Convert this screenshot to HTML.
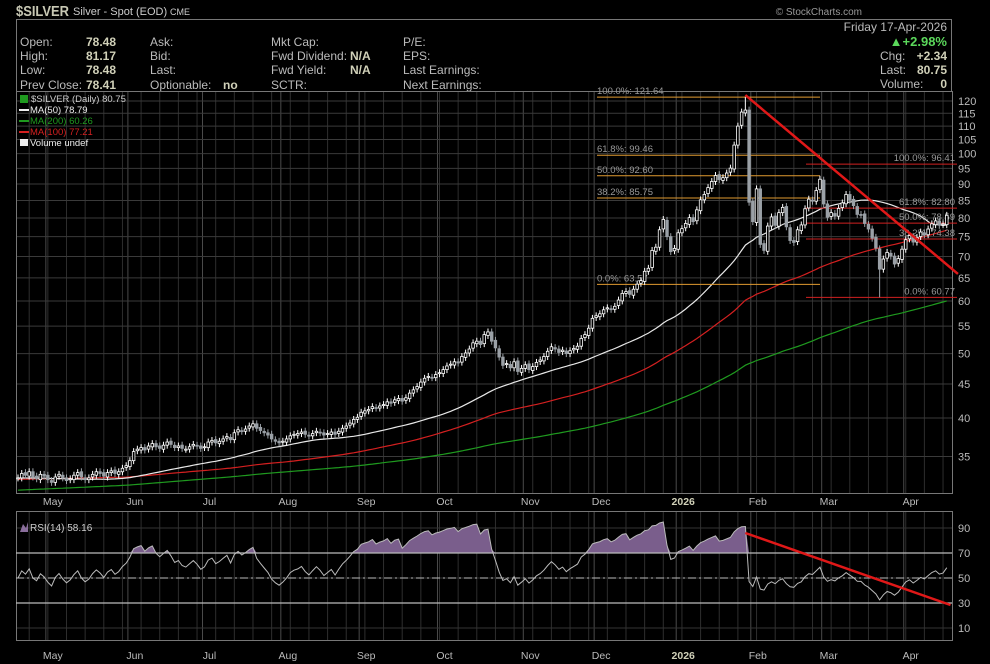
<!DOCTYPE html>
<html><head><meta charset="utf-8">
<style>
body{margin:0;background:#000;width:990px;height:664px;overflow:hidden;font-family:"Liberation Sans",sans-serif;}
svg{position:absolute;left:0;top:0}
</style></head>
<body>
<svg id="c" width="990" height="664"></svg>
<script>
// ---- data ----
const closes=[32.5,33.0,32.8,33.2,32.6,32.4,32.9,32.7,
32.3,32.0,32.6,32.9,32.5,32.2,32.4,32.8,33.1,32.6,32.3,32.5,32.9,33.2,33.0,32.7,33.1,33.3,33.0,33.2,33.6,33.9,
34.5,35.6,35.9,36.1,35.8,36.3,36.6,36.2,36.0,36.4,36.8,36.5,36.1,36.3,36.0,35.9,36.2,36.5,36.3,36.0,
36.2,36.8,37.0,36.7,36.9,37.2,37.5,37.1,38.0,38.4,38.2,38.5,38.9,39.2,38.6,38.3,38.0,37.7,37.2,36.9,36.7,
36.9,37.2,37.6,37.8,37.9,38.1,37.8,37.6,37.9,38.2,38.0,37.7,37.9,38.1,37.8,38.2,38.6,38.9,39.3,39.8,40.1,
40.8,41.0,41.2,41.6,41.4,41.7,41.9,42.3,42.1,42.6,42.8,42.4,42.9,43.6,44.1,44.6,45.3,45.9,46.2,46.0,46.5,
46.8,47.3,47.9,48.2,48.6,48.4,49.5,50.1,50.8,51.9,52.2,51.6,53.4,53.9,52.2,51.0,49.4,48.0,48.3,47.6,48.6,47.0,47.5,
48.1,47.3,47.8,48.5,48.9,49.5,50.4,51.2,50.8,50.2,50.6,50.0,50.5,50.9,51.3,52.7,53.4,54.6,56.5,
57.0,57.4,58.2,58.6,58.3,58.9,60.2,61.6,62.0,61.4,62.5,63.6,64.4,66.5,67.2,71.5,72.3,76.8,79.6,75.0,71.2,72.0,
76.0,77.1,78.5,80.1,79.0,82.3,85.2,86.8,88.9,90.8,92.7,91.4,92.0,93.5,95.1,103.0,110.0,115.5,116.3,
84.5,
79.0,88.5,73.0,71.5,77.8,80.3,78.0,81.5,83.0,77.6,74.0,73.5,76.8,78.1,82.6,85.4,84.8,88.0,91.5,
84.0,80.2,81.5,80.5,82.7,84.3,86.8,85.1,83.5,81.0,80.9,78.5,77.0,74.6,72.1,67.0,69.4,71.0,70.1,68.2,69.5,71.8,
74.2,75.3,73.6,74.8,76.2,75.5,77.0,78.4,79.2,78.0,78.41,80.75];
const priorLevels=[29.0,29.5,30.2,31.0,31.8,32.5,33.0,32.0]; // monthly levels before chart start
const extremeIdx=[195,231];
const extremeVal=[121.64,60.77];
const priceTicks=[35,40,45,50,55,60,65,70,75,80,85,90,95,100,105,110,115,120];
const rsiTicks=[10,30,50,70,90];
const monthLabels=["May","Jun","Jul","Aug","Sep","Oct","Nov","Dec","2026","Feb","Mar","Apr"];
const monthIdx=[8,30,50,71,92,113,136,155,177,197,216,238];
const fibA=[121.64,99.46,92.60,85.75,63.57];
const fibALbl=["100.0%: 121.64","61.8%: 99.46","50.0%: 92.60","38.2%: 85.75","0.0%: 63.57"];
const fibB=[96.41,82.80,78.59,74.38,60.77];
const fibBLbl=["100.0%: 96.41","61.8%: 82.80","50.0%: 78.59","38.2%: 74.38","0.0%: 60.77"];
const trendIdx=[195,252];
const trendPx=[122.5,65.9];
const rsiTrendIdx=[195,250];
const rsiTrendVal=[86,28.4];

// ---- scales ----
const X0=18,DX=3.73,PL=16,PR=952,PT=91,PB=493,RT=511,RB=640;
const xs=i=>X0+i*DX;
const ys=p=>301-Math.log(p/60)*288.5;
const yr=v=>578-(v-50)*1.25;
const svg=document.getElementById('c');
const NS='http://www.w3.org/2000/svg';
function mk(t,a,par){const e=document.createElementNS(NS,t);for(const k in a)e.setAttribute(k,a[k]);(par||svg).appendChild(e);return e;}
function txt(s,x,y,a){const e=mk('text',Object.assign({x:x,y:y,fill:'#bbb','font-size':11,'font-family':'Liberation Sans, sans-serif'},a));e.textContent=s;return e;}

// ---- header ----
let t=txt('$SILVER',16,16,{'font-size':15,'font-weight':'bold',fill:'#c8c8b4',textLength:53,lengthAdjust:'spacingAndGlyphs'});

txt('Silver - Spot (EOD)',73,15,{'font-size':11,fill:'#ccc'});
txt('CME',170,15,{'font-size':9,fill:'#ccc'});
txt('© StockCharts.com',862,15,{'font-size':10,fill:'#999','text-anchor':'end'});
mk('rect',{x:16.5,y:19.5,width:935,height:72,fill:'none',stroke:'#777'});
const rows=[46,60,74,89];
[['Open:','78.48'],['High:','81.17'],['Low:','78.48'],['Prev Close:','78.41']].forEach((r,k)=>{txt(r[0],20,rows[k],{'font-size':12,fill:'#bbb'});txt(r[1],86,rows[k],{'font-size':12,'font-weight':'bold',fill:'#d0d0b8'});});
['Ask:','Bid:','Last:','Optionable:'].forEach((s,k)=>txt(s,150,rows[k],{'font-size':12,fill:'#bbb'}));
txt('no',223,89,{'font-size':12,'font-weight':'bold',fill:'#d0d0b8'});
['Mkt Cap:','Fwd Dividend:','Fwd Yield:','SCTR:'].forEach((s,k)=>txt(s,271,rows[k],{'font-size':12,fill:'#bbb'}));
txt('N/A',350,60,{'font-size':12,'font-weight':'bold',fill:'#d0d0b8'});txt('N/A',350,74,{'font-size':12,'font-weight':'bold',fill:'#d0d0b8'});
['P/E:','EPS:','Last Earnings:','Next Earnings:'].forEach((s,k)=>txt(s,403,rows[k],{'font-size':12,fill:'#bbb'}));
txt('Friday  17-Apr-2026',947,31,{'font-size':12,fill:'#bbb','text-anchor':'end'});
txt('▲+2.98%',947,46,{'font-size':13,'font-weight':'bold',fill:'#5bd85b','text-anchor':'end'});
txt('Chg:',880,60,{'font-size':12,fill:'#bbb'});txt('+2.34',947,60,{'font-size':12,'font-weight':'bold',fill:'#d0d0b8','text-anchor':'end'});
txt('Last:',880,74,{'font-size':12,fill:'#bbb'});txt('80.75',947,74,{'font-size':12,'font-weight':'bold',fill:'#d0d0b8','text-anchor':'end'});
txt('Volume:',880,88,{'font-size':12,fill:'#bbb'});txt('0',947,88,{'font-size':12,'font-weight':'bold',fill:'#d0d0b8','text-anchor':'end'});

// ---- grids ----
const g=mk('g',{});
for(let i=3;i<closes.length;i+=5){const x=xs(i);mk('line',{x1:x,x2:x,y1:PT,y2:PB,stroke:'#2e2e2e'},g);mk('line',{x1:x,x2:x,y1:RT,y2:RB,stroke:'#2e2e2e'},g);}
monthIdx.forEach(i=>{const x=xs(i)-2;mk('line',{x1:x,x2:x,y1:PT,y2:PB,stroke:'#4a4a4a'},g);mk('line',{x1:x,x2:x,y1:RT,y2:RB,stroke:'#4a4a4a'},g);});
priceTicks.forEach(p=>{const y=ys(p);mk('line',{x1:PL,x2:PR,y1:y,y2:y,stroke:'#3a3a3a'},g);
 const l=txt(String(p),958,y+4,{'font-size':11,fill:'#bbb'});});
rsiTicks.forEach(v=>{const y=yr(v);mk('line',{x1:PL,x2:PR,y1:y,y2:y,stroke:'#333'},g);
 const l=txt(String(v),958,y+4,{'font-size':11,fill:'#bbb'});});
mk('rect',{x:PL+.5,y:PT+.5,width:PR-PL,height:PB-PT,fill:'none',stroke:'#777'});
mk('rect',{x:PL+.5,y:RT+.5,width:PR-PL,height:RB-RT,fill:'none',stroke:'#777'});
monthLabels.forEach((m,k)=>{const x=xs(monthIdx[k])+5;
 const a=txt(m,x,505,{'font-size':10.5,fill:m==='2026'?'#d0d0b8':'#bbb','text-anchor':'middle','font-weight':m==='2026'?'bold':'normal'});
 txt(m,x,659,{'font-size':10.5,fill:m==='2026'?'#d0d0b8':'#bbb','text-anchor':'middle','font-weight':m==='2026'?'bold':'normal'});});

// ---- moving averages ----
let hist=[];priorLevels.forEach(v=>{for(let k=0;k<25;k++)hist.push(v);});
const all=hist.concat(closes),off=hist.length;
function ma(n){return closes.map((c,i)=>{let s=0;for(let k=0;k<n;k++)s+=all[off+i-k];return s/n;});}
function pl(arr,col,name,w){const d=arr.map((v,i)=>(i?'L':'M')+xs(i).toFixed(1)+','+ys(v).toFixed(1)).join('');const e=mk('path',{d:d,fill:'none',stroke:col,'stroke-width':w||1.2});}
pl(ma(200),'#1f9a1f','ma200-line');pl(ma(100),'#d42020','ma100-line');pl(ma(50),'#e8e8e8','ma50-line');

// ---- fib lines ----
fibA.forEach((p,k)=>{const y=ys(p);const l=mk('line',{x1:597,x2:820,y1:y,y2:y,stroke:'#e09a30'});txt(fibALbl[k],597,y-3,{'font-size':9.5,fill:'#999'});});
fibB.forEach((p,k)=>{const y=ys(p);const l=mk('line',{x1:806,x2:957,y1:y,y2:y,stroke:'#d02020'});txt(fibBLbl[k],955,y-3,{'font-size':9.5,fill:'#999','text-anchor':'end'});});

// ---- candles ----
const cg=mk('g',{});
closes.forEach((c,i)=>{const o=i?closes[i-1]*(1+((i%3)-1)*0.003):c;let hi=Math.max(o,c)*1.012,lo=Math.min(o,c)*0.988;
 const ei=extremeIdx.indexOf(i);if(ei===0)hi=extremeVal[0];if(ei===1)lo=extremeVal[1];
 const x=xs(i),up=c>=o,col=up?'#fff':'#9aa0a6';
 mk('line',{x1:x,x2:x,y1:ys(hi),y2:ys(lo),stroke:col},cg);
 const y1=ys(Math.max(o,c)),h=Math.max(1,ys(Math.min(o,c))-y1);
 const r=mk('rect',{x:x-1.3,y:y1,width:2.6,height:h,fill:up?'#000':'#9aa0a6',stroke:col,'stroke-width':0.8},cg);
 });

// ---- trendline ----
let tl=mk('line',{x1:xs(trendIdx[0]),y1:ys(trendPx[0]),x2:xs(trendIdx[1]),y2:ys(trendPx[1]),stroke:'#e01818','stroke-width':2.5});


// ---- legend ----
txt('$SILVER (Daily) 80.75',31,102,{'font-size':9.5,fill:'#ccc'});
mk('rect',{x:20,y:95,width:8,height:8,fill:'#1f9a1f'});
[['MA(50) 78.79','#eee'],['MA(200) 60.26','#1f9a1f'],['MA(100) 77.21','#d42020']].forEach((m,k)=>{const y=113+k*11;mk('line',{x1:19,x2:29,y1:y-3,y2:y-3,stroke:m[1],'stroke-width':2});const e=txt(m[0],30,y,{'font-size':9.5,fill:m[1]});});
txt('Volume undef',30,146,{'font-size':9.5,fill:'#eee'});mk('rect',{x:20,y:139,width:8,height:7,fill:'#eee'});

// ---- RSI ----
let ag=0.15,al=0.15;const rsi=closes.map(()=>50);
for(let i=1;i<closes.length;i++){const d=closes[i]-closes[i-1],gn=Math.max(d,0),ls=Math.max(-d,0);
 ag=(ag*13+gn)/14;al=(al*13+ls)/14;
 rsi[i]=al===0?100:100-100/(1+ag/al);}
let fd='';for(let i=0;i<closes.length;i++){const v=Math.max(rsi[i],70);fd+=(i===0?'M':'L')+xs(i).toFixed(1)+','+yr(v).toFixed(1);}
fd+='L'+xs(closes.length-1)+','+yr(70)+'L'+xs(0)+','+yr(70)+'Z';
let rf=mk('path',{d:fd,fill:'#7a5e8c'});
[70,30].forEach(v=>mk('line',{x1:PL,x2:PR,y1:yr(v),y2:yr(v),stroke:'#bbb','stroke-width':1.2}));
mk('line',{x1:PL,x2:PR,y1:yr(50),y2:yr(50),stroke:'#bbb','stroke-dasharray':'8,3,2,3'});
let rl=mk('path',{d:rsi.map((v,i)=>(i?'L':'M')+xs(i).toFixed(1)+','+yr(v).toFixed(1)).join(''),fill:'none',stroke:'#bbb','stroke-width':1});

let rt=mk('line',{x1:xs(rsiTrendIdx[0]),y1:yr(rsiTrendVal[0]),x2:xs(rsiTrendIdx[1]),y2:yr(rsiTrendVal[1]),stroke:'#e01818','stroke-width':2.5});

mk('path',{d:'M20,532L23,524L26,528L28,522L28,532Z',fill:'#8a6e9c'});
txt('RSI(14) 58.16',30,531,{'font-size':10,fill:'#ccc'});
</script>
</body></html>
